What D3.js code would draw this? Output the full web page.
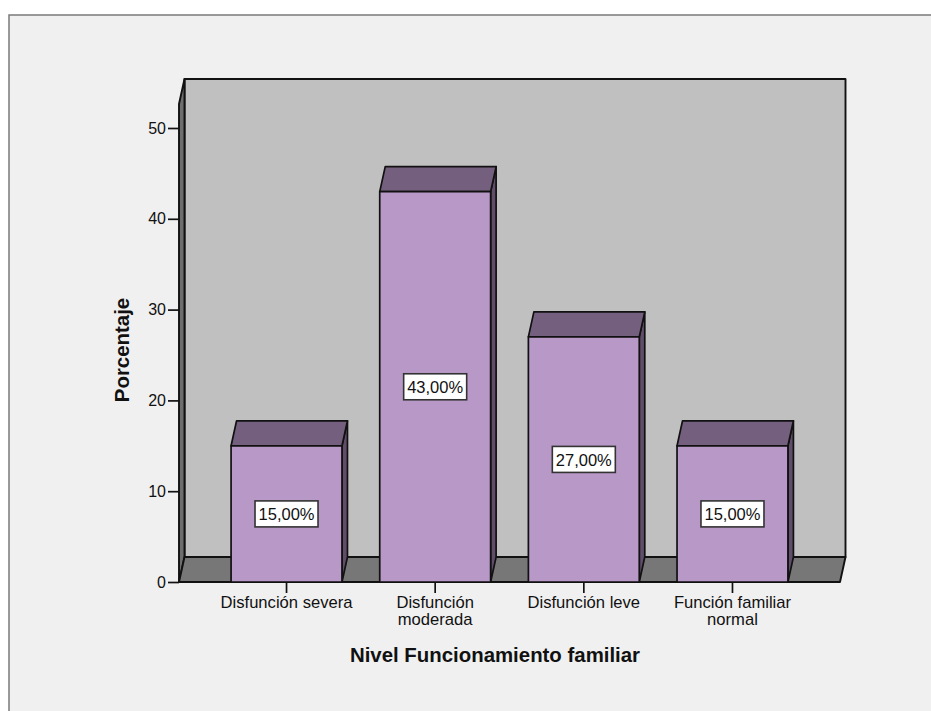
<!DOCTYPE html>
<html>
<head>
<meta charset="utf-8">
<script src="https://cdn.jsdelivr.net/npm/d3@7"></script>
<style>
html, body { margin: 0; padding: 0; background: #fff; overflow: hidden; }
text { font-family: "Liberation Sans", Arial, sans-serif; fill: #111; }
</style>
</head>
<body>
<div id="chart"></div>
<script>
var categories = [['Disfunción severa'], ['Disfunción', 'moderada'], ['Disfunción leve'], ['Función familiar', 'normal']];
var percentages = [15, 43, 27, 15];
var valueLabels = ['15,00%', '43,00%', '27,00%', '15,00%'];
var yTicks = [0, 10, 20, 30, 40, 50];

var width = 931, height = 711;
var depthX = 5.5, depthY = -25;
var stroke = '#111';

var svg = d3.select('#chart').append('svg')
    .attr('width', width)
    .attr('height', height)
    .style('display', 'block');

// panel, open on the right and at the bottom
svg.append('rect')
    .attr('x', 9).attr('y', 15)
    .attr('width', width).attr('height', height)
    .attr('fill', '#f0f0f0')
    .attr('stroke', '#7a7a7a')
    .attr('stroke-width', 1.5);

var y = d3.scaleLinear().domain([0, 50]).range([582, 128]);
var yMaxValue = 52.65; // front top of the wall
var x = d3.scaleBand()
    .domain(categories.map(function(c) { return c.join(' '); }))
    .range([212.2, 806.8])
    .paddingInner(0.254)
    .paddingOuter(0.127);

var left = 179, right = 840;
var bottom = y(0), top_ = y(yMaxValue);

var poly = function(points, fill, sw) {
    return svg.append('polygon')
        .attr('points', points.map(function(p) { return p.join(','); }).join(' '))
        .attr('fill', fill)
        .attr('stroke', stroke)
        .attr('stroke-width', sw || 1.7)
        .attr('stroke-linejoin', 'round');
};

// back wall, side wall, floor
poly([[left + depthX, top_ + depthY], [right + depthX, top_ + depthY], [right + depthX, bottom + depthY], [left + depthX, bottom + depthY]], '#c0c0c0', 1.9);
poly([[left, top_], [left + depthX, top_ + depthY], [left + depthX, bottom + depthY], [left, bottom]], '#6e6e6e', 1.9);
poly([[left, bottom], [left + depthX, bottom + depthY], [right + depthX, bottom + depthY], [right, bottom]], '#777777', 1.9);

// y axis
var yAxis = d3.axisLeft(y).tickValues(yTicks).tickSize(11).tickPadding(2);
var yG = svg.append('g')
    .attr('transform', 'translate(' + left + ',0)')
    .call(yAxis);
yG.select('.domain').remove();
yG.selectAll('line').attr('stroke', stroke).attr('stroke-width', 1.7);
yG.selectAll('text').attr('font-size', 16).style('font-family', '"Liberation Sans", Arial, sans-serif');

// x axis
var xAxis = d3.axisBottom(x).tickSize(11).tickFormat('');
var xG = svg.append('g')
    .attr('transform', 'translate(0,' + bottom + ')')
    .call(xAxis);
xG.select('.domain').remove();
xG.selectAll('line').attr('stroke', stroke).attr('stroke-width', 1.7);

categories.forEach(function(lines) {
    var label = svg.append('text')
        .attr('text-anchor', 'middle')
        .attr('font-size', 16.6);
    lines.forEach(function(line, i) {
        label.append('tspan')
            .attr('x', x(lines.join(' ')) + x.bandwidth() / 2)
            .attr('y', 608 + i * 17)
            .text(line);
    });
});

// bars
percentages.forEach(function(value, i) {
    var key = categories[i].join(' ');
    var x0 = x(key), x1 = x0 + x.bandwidth();
    var yTop = y(value);
    poly([[x1, yTop], [x1 + depthX, yTop + depthY], [x1 + depthX, bottom + depthY], [x1, bottom]], '#5f4d69');
    poly([[x0, yTop], [x0 + depthX, yTop + depthY], [x1 + depthX, yTop + depthY], [x1, yTop]], '#74607e');
    poly([[x0, yTop], [x1, yTop], [x1, bottom], [x0, bottom]], '#b798c6');

    var cx = (x0 + x1) / 2, cy = y(value / 2);
    svg.append('rect')
        .attr('x', cx - 31.5).attr('y', cy - 13)
        .attr('width', 63).attr('height', 26)
        .attr('fill', '#fff')
        .attr('stroke', '#333')
        .attr('stroke-width', 1.6);
    svg.append('text')
        .attr('x', cx).attr('y', cy + 6.5)
        .attr('text-anchor', 'middle')
        .attr('font-size', 16.5)
        .text(valueLabels[i]);
});

// axis titles
svg.append('text')
    .attr('transform', 'translate(129,350) rotate(-90)')
    .attr('text-anchor', 'middle')
    .attr('font-size', 20.4)
    .attr('font-weight', 'bold')
    .text('Porcentaje');

svg.append('text')
    .attr('x', 495).attr('y', 662)
    .attr('text-anchor', 'middle')
    .attr('font-size', 20.4)
    .attr('font-weight', 'bold')
    .text('Nivel Funcionamiento familiar');
</script>
</body>
</html>
